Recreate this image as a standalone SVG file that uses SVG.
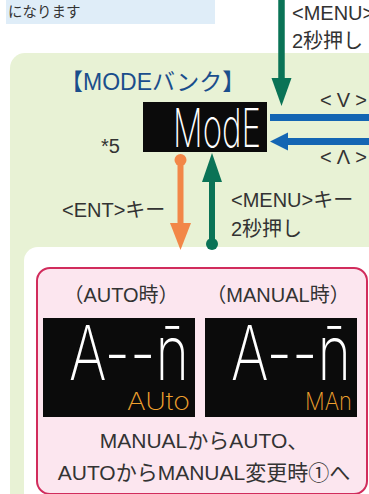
<svg xmlns="http://www.w3.org/2000/svg" width="369" height="494" viewBox="0 0 369 494">
<style>
.t{font-family:"Liberation Sans","Noto Sans CJK JP",sans-serif;fill:#333;}
.l{font-size:20px;}
.seg{font-family:Inter,"DejaVu Sans",sans-serif;font-weight:200;}
</style>
<rect width="369" height="494" fill="#ffffff"/>
<g id="note">
<rect x="6" y="0" width="209" height="24" fill="#dfedf8"/>
<text class="t" x="8" y="17" font-size="14.5">になります</text>
</g>
<g id="mode-bank">
<rect x="10" y="53" width="380" height="470" rx="15" fill="#e8f2d5"/>
<text x="60" y="90" font-size="23" font-family="'Liberation Sans','Noto Sans CJK JP',sans-serif" fill="#1a4e8c">【MODEバンク】</text>
<text class="t l" x="101" y="153">*5</text>
</g>
<g id="mode-display">
<rect x="143" y="102" width="124" height="50" fill="#0b0b0b"/>
<text class="seg" x="173" y="147" font-size="54" fill="#ffffff" textLength="88" lengthAdjust="spacingAndGlyphs">ModE</text>
</g>
<g id="inner">
<rect x="24" y="247" width="380" height="300" rx="14" fill="#ffffff"/>
</g>
<g id="am-box">
<rect x="37" y="268" width="330" height="226" rx="13" fill="#fce6ef" stroke="#d12c5c" stroke-width="2"/>
<text class="t" x="121" y="302" font-size="20" text-anchor="middle">（AUTO時）</text>
<text class="t" x="278" y="302" font-size="20" text-anchor="middle">（MANUAL時）</text>
<text class="t" x="204" y="448" font-size="21" text-anchor="middle">MANUALからAUTO、</text>
<text class="t" x="204" y="480" font-size="21" text-anchor="middle">AUTOからMANUAL変更時①へ</text>
</g>
<g id="auto-display">
<rect x="43" y="318" width="152" height="99" fill="#0b0b0b"/>
<text class="seg" x="69" y="380" font-size="76" fill="#ffffff" textLength="120" lengthAdjust="spacingAndGlyphs">A--n&#x304;</text>
<text class="seg" x="127" y="410" font-size="24" fill="#f0a12e" textLength="63" lengthAdjust="spacingAndGlyphs">AUto</text>
</g>
<g id="manual-display">
<rect x="205" y="318" width="152" height="99" fill="#0b0b0b"/>
<text class="seg" x="231" y="380" font-size="76" fill="#ffffff" textLength="120" lengthAdjust="spacingAndGlyphs">A--n&#x304;</text>
<text class="seg" x="305" y="410" font-size="24" fill="#f0a12e" textLength="47" lengthAdjust="spacingAndGlyphs">MAn</text>
</g>
<g id="connectors">
<line x1="281.5" y1="0" x2="281.5" y2="80" stroke="#0a7356" stroke-width="6.5"/>
<path d="M271.5,78 L291.5,78 L281.5,106 Z" fill="#0a7356"/>
<line x1="270" y1="117.5" x2="369" y2="117.5" stroke="#1465b3" stroke-width="7"/>
<line x1="286" y1="141.5" x2="369" y2="141.5" stroke="#1465b3" stroke-width="7"/>
<path d="M270,141.5 L288,132.5 L288,150.5 Z" fill="#1465b3"/>
<circle cx="180.5" cy="160" r="6" fill="#f28748"/>
<line x1="180.5" y1="160" x2="180.5" y2="225" stroke="#f28748" stroke-width="6"/>
<path d="M170,223 L191,223 L180.5,250 Z" fill="#f28748"/>
<circle cx="212" cy="244" r="6" fill="#0a7356"/>
<line x1="212" y1="244" x2="212" y2="180" stroke="#0a7356" stroke-width="6"/>
<path d="M202,182 L222,182 L212,153 Z" fill="#0a7356"/>
</g>
<g id="labels">
<text class="t l" x="292" y="20">&lt;MENU&gt;キー</text>
<text class="t l" x="292" y="48">2秒押し</text>
<text class="t l" x="320" y="107" textLength="47">&lt;V&gt;</text>
<text class="t l" x="320" y="164" textLength="47">&lt;Λ&gt;</text>
<text class="t l" x="62" y="217">&lt;ENT&gt;キー</text>
<text class="t l" x="231" y="207">&lt;MENU&gt;キー</text>
<text class="t l" x="231" y="236">2秒押し</text>
</g>
</svg>
